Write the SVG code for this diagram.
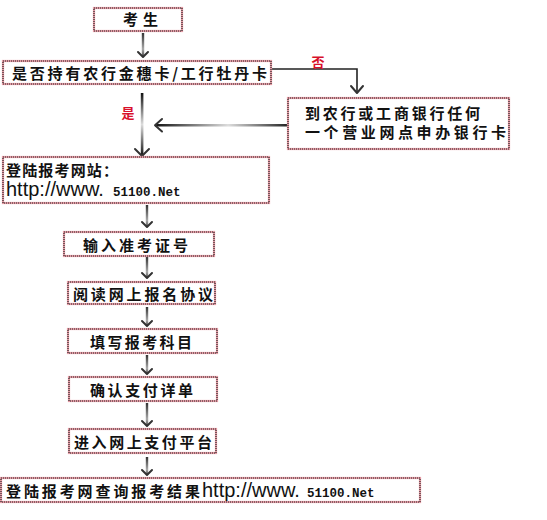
<svg xmlns="http://www.w3.org/2000/svg" width="547" height="520" viewBox="0 0 547 520">
<defs>
<style>
.bx{fill:#fff;stroke:#e59aa4;stroke-width:2.2}
.bd{fill:none;stroke:#2a2a2a;stroke-width:1.2;stroke-dasharray:1 1}
.t{font-family:"Noto Sans CJK SC","Noto Sans CJK JP",sans-serif;font-weight:bold;font-size:15px;fill:#111}
.u{font-family:"Liberation Sans",Arial,sans-serif;font-size:20px;fill:#111}
.m{font-family:"Liberation Mono","Courier New",monospace;font-weight:bold;font-size:12.5px;fill:#111}
.lbl{font-family:"Noto Sans CJK SC","Noto Sans CJK JP",sans-serif;font-weight:bold;font-size:13px;fill:#d8102a}
.hd{fill:none;stroke:#333;stroke-width:2;stroke-linecap:round;stroke-linejoin:round}
</style>
<linearGradient id="vg" x1="0" y1="0" x2="0" y2="1">
<stop offset="0" stop-color="#333"/>
<stop offset="0.7" stop-color="#aaa"/>
<stop offset="1" stop-color="#555"/>
</linearGradient>
<linearGradient id="vg2" x1="0" y1="0" x2="0" y2="1">
<stop offset="0" stop-color="#111"/>
<stop offset="0.5" stop-color="#ddd"/>
<stop offset="1" stop-color="#111"/>
</linearGradient>
<linearGradient id="hg" x1="0" y1="0" x2="1" y2="0">
<stop offset="0" stop-color="#111"/>
<stop offset="0.55" stop-color="#ddd"/>
<stop offset="1" stop-color="#222"/>
</linearGradient>
</defs>
<rect width="547" height="520" fill="#fff"/>

<g id="connectors">
<g id="c0"><rect x="141.8" y="33" width="2.4" height="23" fill="url(#vg)"/><path class="hd" d="M138,52 L143,57 L148,52"/></g>
<g id="c-no"><path d="M271,69 H357 V92" fill="none" stroke="#222" stroke-width="1.6"/><path class="hd" d="M351,86 L357,93 L363,86"/></g>
<g id="c-yes"><rect x="140.8" y="93" width="2.6" height="63" fill="url(#vg2)"/><path class="hd" d="M135,149 L142,156 L149,149"/></g>
<g id="c-back"><rect x="155" y="124" width="133" height="2.5" fill="url(#hg)"/><path class="hd" d="M162,119 L155,125.2 L162,131.5"/></g>
<g id="c1"><rect x="145.8" y="205" width="2.4" height="22" fill="url(#vg)"/><path class="hd" d="M142,222 L147,227 L152,222"/></g>
<g id="c2"><rect x="145.8" y="257" width="2.4" height="21" fill="url(#vg)"/><path class="hd" d="M142,273 L147,278 L152,273"/></g>
<g id="c3"><rect x="145.8" y="307" width="2.4" height="19" fill="url(#vg)"/><path class="hd" d="M142,321 L147,326 L152,321"/></g>
<g id="c4"><rect x="145.8" y="355" width="2.4" height="19" fill="url(#vg)"/><path class="hd" d="M142,369 L147,374 L152,369"/></g>
<g id="c5"><rect x="145.8" y="403" width="2.4" height="23" fill="url(#vg)"/><path class="hd" d="M142,421 L147,426 L152,421"/></g>
<g id="c6"><rect x="145.8" y="457" width="2.4" height="18" fill="url(#vg)"/><path class="hd" d="M142,470 L147,475 L152,470"/></g>
<text class="lbl" x="318" y="67" text-anchor="middle">否</text>
<text class="lbl" x="128" y="118" text-anchor="middle">是</text>
</g>

<g id="n-kaosheng">
<rect class="bx" x="94" y="8" width="88" height="23"/><rect class="bd" x="94" y="8" width="88" height="23"/>
<text class="t" x="123" y="25" textLength="35" lengthAdjust="spacing">考生</text>
</g>
<g id="n-card">
<rect class="bx" x="3" y="61" width="268" height="23"/><rect class="bd" x="3" y="61" width="268" height="23"/>
<text class="t" x="12" y="78.5" textLength="255" lengthAdjust="spacing">是否持有农行金穗卡/工行牡丹卡</text>
</g>
<g id="n-bank">
<rect class="bx" x="288" y="98" width="221" height="51"/><rect class="bd" x="288" y="98" width="221" height="51"/>
<text class="t" x="305" y="119" textLength="175" lengthAdjust="spacing">到农行或工商银行任何</text>
<text class="t" x="305" y="138" textLength="201" lengthAdjust="spacing">一个营业网点申办银行卡</text>
</g>
<g id="n-login">
<rect class="bx" x="3" y="157" width="266" height="46"/><rect class="bd" x="3" y="157" width="266" height="46"/>
<text class="t" x="6" y="176" textLength="112" lengthAdjust="spacing">登陆报考网站：</text>
<text class="u" x="6" y="196">http://www.</text>
<text class="m" x="113" y="196">51100.Net</text>
</g>
<g id="n-input">
<rect class="bx" x="64" y="232" width="150" height="24"/><rect class="bd" x="64" y="232" width="150" height="24"/>
<text class="t" x="83" y="250.5" textLength="105" lengthAdjust="spacing">输入准考证号</text>
</g>
<g id="n-read">
<rect class="bx" x="68" y="282" width="147" height="22"/><rect class="bd" x="68" y="282" width="147" height="22"/>
<text class="t" x="73" y="299.5" textLength="140" lengthAdjust="spacing">阅读网上报名协议</text>
</g>
<g id="n-fill">
<rect class="bx" x="68" y="329" width="149" height="24"/><rect class="bd" x="68" y="329" width="149" height="24"/>
<text class="t" x="90" y="347.5" textLength="102" lengthAdjust="spacing">填写报考科目</text>
</g>
<g id="n-confirm">
<rect class="bx" x="69" y="377" width="148" height="24"/><rect class="bd" x="69" y="377" width="148" height="24"/>
<text class="t" x="90" y="395.5" textLength="103" lengthAdjust="spacing">确认支付详单</text>
</g>
<g id="n-pay">
<rect class="bx" x="69" y="429" width="147" height="24"/><rect class="bd" x="69" y="429" width="147" height="24"/>
<text class="t" x="74" y="447.5" textLength="138" lengthAdjust="spacing">进入网上支付平台</text>
</g>
<g id="n-result">
<rect class="bx" x="1" y="478" width="419" height="24"/><rect class="bd" x="1" y="478" width="419" height="24"/>
<text class="t" x="6" y="496.5" textLength="194" lengthAdjust="spacing">登陆报考网查询报考结果</text>
<text class="u" x="202" y="497">http://www.</text>
<text class="m" x="307" y="497">51100.Net</text>
</g>
</svg>
